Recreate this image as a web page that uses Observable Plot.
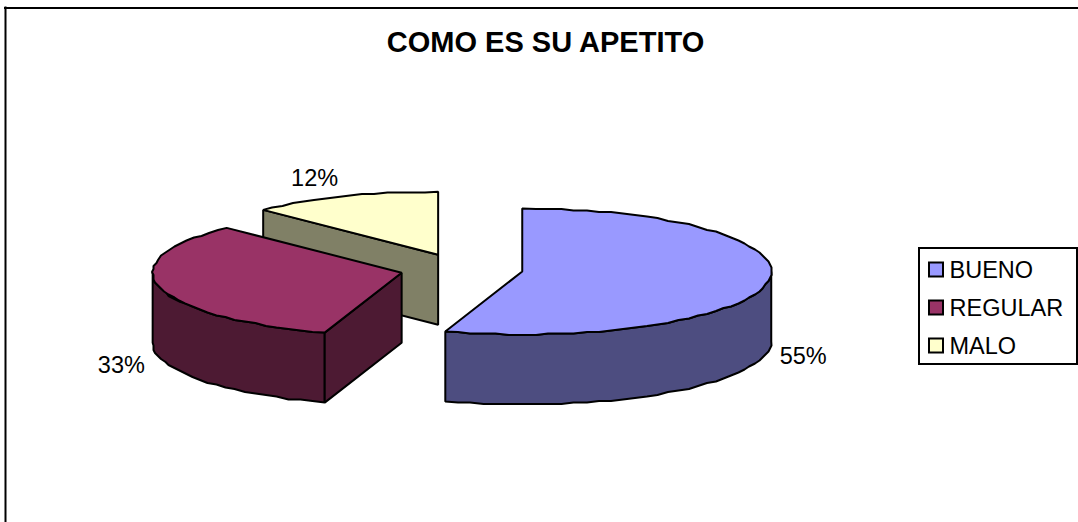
<!DOCTYPE html>
<html>
<head>
<meta charset="utf-8">
<style>html,body{margin:0;padding:0;background:#fff;overflow:hidden}svg{display:block}</style>
<script src="https://cdn.jsdelivr.net/npm/d3@7"></script>
<script src="https://cdn.jsdelivr.net/npm/@observablehq/plot@0.6"></script>
</head>
<body>
<script>
const title = "COMO ES SU APETITO";
const categories = ["BUENO", "REGULAR", "MALO"];
const shares = [55, 32.6, 12.4];
const topColors = ["#9999FF", "#993366", "#FFFFCC"];
const sideColors = ["#4D4D80", "#4D1A33", "#808066"];

// pie geometry in page pixels
const W = 1078, H = 522;
const cx = 461, cy = 268.6, rx = 249, ry = 63, depth = 70, explode = 0.247;
const font = "'Liberation Sans', Arial, sans-serif";
const rad = d => d * Math.PI / 180;

let acc = 0;
const slices = shares.map((v, i) => {
  const a0 = acc * 3.6; acc += v; const a1 = acc * 3.6;
  const mid = rad((a0 + a1) / 2);
  return {i, v, a0, a1, mid,
    ax: cx + explode * rx * Math.sin(mid),
    ay: cy - explode * ry * Math.cos(mid)};
});
const rim = (s, a, dz = 0) => ({x: s.ax + rx * Math.sin(rad(a)), y: s.ay - ry * Math.cos(rad(a)) + dz});
// the reference's rim is a polygon snapped to a low-resolution grid
const snap = v => Math.round(v / 1.5) * 1.5;
const arc = (s, a0, a1, dz = 0) => {
  const n = Math.max(2, Math.round(Math.abs(a1 - a0) / 3)), pts = [];
  for (let k = 0; k <= n; k++) {
    const p = rim(s, a0 + (a1 - a0) * k / n, dz);
    pts.push(k === 0 || k === n ? p : {x: snap(p.x), y: snap(p.y)});
  }
  return pts;
};
const centre = (s, dz = 0) => ({x: s.ax, y: s.ay + dz});

function polygon(pts, fill) {
  return Plot.line(pts, {x: "x", y: "y", fill, stroke: "#000", strokeWidth: 2,
    curve: "linear-closed", strokeLinejoin: "miter"});
}
function cutFace(s, a) {
  return [centre(s), rim(s, a), rim(s, a, depth), centre(s, depth)];
}
function wall(s) {
  const a0 = Math.max(s.a0, 90), a1 = Math.min(s.a1, 270);
  if (a1 <= a0) return [];
  return [...arc(s, a0, a1), ...arc(s, a1, a0, depth)];
}
function topFace(s) {
  return [centre(s), ...arc(s, s.a0, s.a1)];
}

const [bueno, regular, malo] = slices;
const marks = [];
// back to front
marks.push(polygon(cutFace(malo, malo.a0), sideColors[2]));
marks.push(polygon(topFace(malo), topColors[2]));
marks.push(polygon(wall(regular), sideColors[1]));
marks.push(polygon(cutFace(regular, regular.a0), sideColors[1]));
marks.push(polygon(topFace(regular), topColors[1]));
marks.push(polygon(wall(bueno), sideColors[0]));
marks.push(polygon(topFace(bueno), topColors[0]));

// percentage labels placed outside the rim along each slice's mid angle
const labelNudge = [[35, 75], [-38, 78], [-29, -18]];
const labels = slices.map(s => ({
  x: s.ax + rx * Math.sin(s.mid) + labelNudge[s.i][0],
  y: s.ay - ry * Math.cos(s.mid) + labelNudge[s.i][1],
  t: d3.format(".0f")(s.v) + "%"
}));

// legend rows
const legend = categories.map((c, i) => ({c, i, color: topColors[i], y: 269.5 + i * 38}));

const chart = Plot.plot({
  width: W, height: H, margin: 0,
  x: {domain: [0, W], range: [0, W], axis: null},
  y: {domain: [0, H], range: [0, H], axis: null},
  style: {background: "#fff", fontFamily: font},
  marks: [
    Plot.ruleY([7.5], {x1: 4, x2: W, stroke: "#000", strokeWidth: 2}),
    Plot.ruleX([5], {y1: 6.5, y2: H, stroke: "#000", strokeWidth: 2}),
    Plot.text([title], {x: () => 545, y: () => 42, text: d => d, fontSize: 29, fontWeight: "bold", fill: "#000", fontFamily: font}),
    ...marks,
    Plot.text(labels, {x: "x", y: "y", text: "t", fontSize: 23.5, fill: "#000", fontFamily: font}),
    Plot.rect([0], {x1: () => 919, x2: () => 1077, y1: () => 248, y2: () => 364, fill: "#fff", stroke: "#000", strokeWidth: 2}),
    Plot.rect(legend, {x1: () => 929, x2: () => 943, y1: d => d.y - 7, y2: d => d.y + 7, fill: "color", stroke: "#000", strokeWidth: 2}),
    Plot.text(legend, {x: () => 949, y: "y", text: "c", textAnchor: "start", fontSize: 23.5, fill: "#000", fontFamily: font})
  ],
  color: {type: "identity"}
});
document.body.appendChild(chart);
</script>
</body>
</html>
